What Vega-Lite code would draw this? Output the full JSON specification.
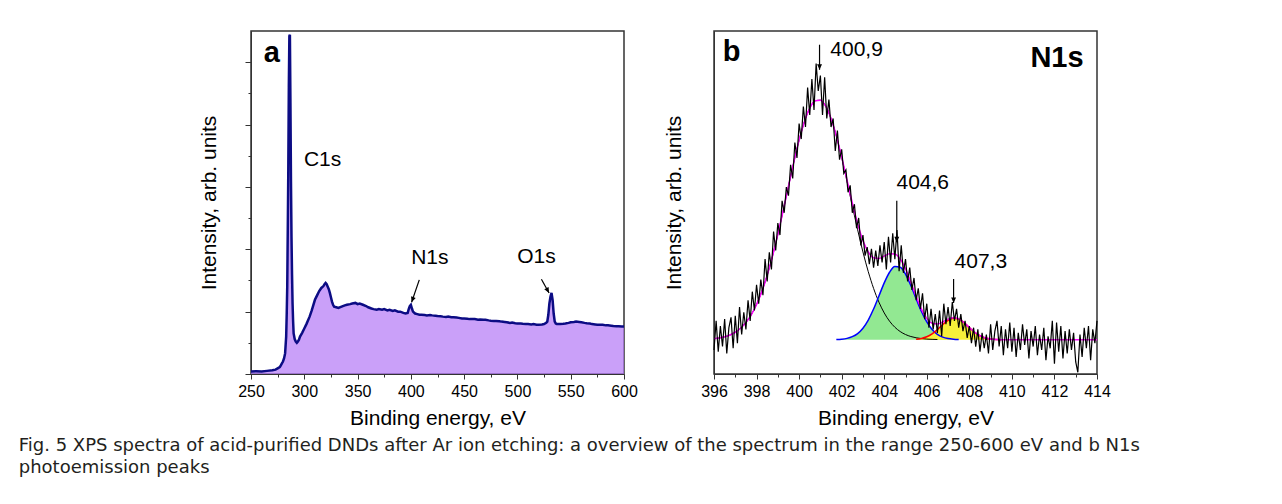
{
"$schema": "https://vega.github.io/schema/vega-lite/v6.json",
"padding": {"left": 18, "top": 28, "right": 0, "bottom": 0},
"config": {"font": "Liberation Sans", "view": {"stroke": "#333", "strokeWidth": 1.5},
  "axis": {"grid": false, "domainColor": "#333", "tickColor": "#333", "labelColor": "#000", "titleColor": "#000", "labelFontSize": 16, "titleFontSize": 21, "titleFontWeight": "normal", "labelFlush": false}},
"title": {"text": ["Fig. 5 XPS spectra of acid-purified DNDs after Ar ion etching: a overview of the spectrum in the range 250-600 eV and b N1s", "photoemission peaks"], "orient": "bottom", "anchor": "start", "dx": -179, "offset": 8, "font": "DejaVu Sans", "fontSize": 18, "fontWeight": "normal", "color": "#231f20", "lineHeight": 22},
"spacing": 23,
"datasets": {
"survey": [
{"e":250,"i":0.04},{"e":255,"i":0.045},{"e":260,"i":0.04},{"e":265,"i":0.05},{"e":270,"i":0.06},{"e":273,"i":0.07},{"e":275,"i":0.09},{"e":277,"i":0.11},{"e":278,"i":0.14},{"e":279,"i":0.17},{"e":280,"i":0.2},{"e":281,"i":0.25},{"e":282,"i":0.33},{"e":283,"i":0.6},{"e":283.5,"i":0.95},{"e":284,"i":1.4},{"e":284.5,"i":2.3},{"e":285,"i":3.28},{"e":285.5,"i":4.6},{"e":286,"i":5.42},{"e":286.5,"i":5.44},{"e":287,"i":4.35},{"e":287.5,"i":3.1},{"e":288,"i":2.2},{"e":288.5,"i":1.6},{"e":289,"i":1.13},{"e":289.5,"i":0.85},{"e":290,"i":0.65},{"e":291,"i":0.56},{"e":292,"i":0.52},{"e":293,"i":0.5},{"e":294,"i":0.52},{"e":295,"i":0.55},{"e":296,"i":0.6},{"e":298,"i":0.66},{"e":300,"i":0.73},{"e":302,"i":0.8},{"e":305,"i":0.92},{"e":307,"i":1.02},{"e":310,"i":1.19},{"e":312,"i":1.26},{"e":314,"i":1.33},{"e":316,"i":1.38},{"e":318,"i":1.41},{"e":319,"i":1.44},{"e":320,"i":1.46},{"e":321,"i":1.44},{"e":322,"i":1.4},{"e":323,"i":1.36},{"e":324,"i":1.3},{"e":325,"i":1.23},{"e":326,"i":1.16},{"e":327,"i":1.11},{"e":328,"i":1.08},{"e":330,"i":1.07},{"e":332,"i":1.06},{"e":335,"i":1.08},{"e":338,"i":1.1},{"e":340,"i":1.11},{"e":343,"i":1.12},{"e":345,"i":1.13},{"e":348,"i":1.14},{"e":350,"i":1.12},{"e":352,"i":1.13},{"e":355,"i":1.11},{"e":358,"i":1.09},{"e":360,"i":1.07},{"e":363,"i":1.05},{"e":365,"i":1.04},{"e":368,"i":1.03},{"e":370,"i":1.04},{"e":373,"i":1.03},{"e":375,"i":1.04},{"e":378,"i":1.02},{"e":380,"i":1.03},{"e":383,"i":1.01},{"e":385,"i":1.02},{"e":388,"i":1.0},{"e":390,"i":1.0},{"e":393,"i":0.98},{"e":395,"i":0.97},{"e":397,"i":0.98},{"e":398,"i":1.04},{"e":399,"i":1.09},{"e":400,"i":1.11},{"e":401,"i":1.05},{"e":402,"i":1.0},{"e":404,"i":0.97},{"e":406,"i":0.96},{"e":408,"i":0.95},{"e":410,"i":0.95},{"e":413,"i":0.945},{"e":415,"i":0.94},{"e":418,"i":0.945},{"e":420,"i":0.94},{"e":423,"i":0.935},{"e":425,"i":0.93},{"e":428,"i":0.925},{"e":430,"i":0.92},{"e":433,"i":0.915},{"e":435,"i":0.92},{"e":438,"i":0.91},{"e":440,"i":0.91},{"e":443,"i":0.905},{"e":445,"i":0.9},{"e":448,"i":0.89},{"e":450,"i":0.89},{"e":453,"i":0.885},{"e":455,"i":0.88},{"e":458,"i":0.88},{"e":460,"i":0.88},{"e":463,"i":0.87},{"e":465,"i":0.875},{"e":468,"i":0.87},{"e":470,"i":0.87},{"e":473,"i":0.86},{"e":475,"i":0.855},{"e":478,"i":0.85},{"e":480,"i":0.85},{"e":483,"i":0.845},{"e":485,"i":0.84},{"e":488,"i":0.835},{"e":490,"i":0.83},{"e":493,"i":0.82},{"e":495,"i":0.825},{"e":498,"i":0.815},{"e":500,"i":0.81},{"e":503,"i":0.81},{"e":505,"i":0.805},{"e":508,"i":0.8},{"e":510,"i":0.8},{"e":513,"i":0.795},{"e":515,"i":0.8},{"e":518,"i":0.79},{"e":520,"i":0.79},{"e":523,"i":0.795},{"e":525,"i":0.8},{"e":527,"i":0.82},{"e":528,"i":0.84},{"e":529,"i":0.95},{"e":530,"i":1.13},{"e":531,"i":1.24},{"e":532,"i":1.3},{"e":533,"i":1.19},{"e":534,"i":0.97},{"e":535,"i":0.84},{"e":536,"i":0.81},{"e":537,"i":0.8},{"e":540,"i":0.8},{"e":543,"i":0.805},{"e":545,"i":0.81},{"e":548,"i":0.82},{"e":550,"i":0.83},{"e":553,"i":0.835},{"e":555,"i":0.84},{"e":558,"i":0.835},{"e":560,"i":0.83},{"e":563,"i":0.82},{"e":565,"i":0.815},{"e":568,"i":0.81},{"e":570,"i":0.8},{"e":573,"i":0.795},{"e":575,"i":0.79},{"e":578,"i":0.79},{"e":580,"i":0.79},{"e":583,"i":0.78},{"e":585,"i":0.78},{"e":588,"i":0.775},{"e":590,"i":0.77},{"e":593,"i":0.765},{"e":595,"i":0.765},{"e":598,"i":0.76},{"e":600,"i":0.76}
],
"n1s": [
{"e":396.0,"v":-0.3},{"e":396.1,"v":0.55},{"e":396.2,"v":-0.35},{"e":396.3,"v":0.4},{"e":396.4,"v":-0.2},{"e":396.5,"v":0.6},{"e":396.6,"v":-0.4},{"e":396.7,"v":0.35},{"e":396.8,"v":0.65},{"e":396.9,"v":-0.25},
{"e":397.0,"v":0.7},{"e":397.1,"v":-0.1},{"e":397.2,"v":0.95},{"e":397.3,"v":0.15},{"e":397.4,"v":0.8},{"e":397.5,"v":0.3},{"e":397.6,"v":1.15},{"e":397.7,"v":0.55},{"e":397.8,"v":1.4},{"e":397.9,"v":0.85},
{"e":398.0,"v":1.6},{"e":398.1,"v":1.05},{"e":398.2,"v":1.75},{"e":398.3,"v":1.3},{"e":398.4,"v":2.35},{"e":398.5,"v":1.7},{"e":398.6,"v":2.55},{"e":398.7,"v":2.05},{"e":398.8,"v":3.15},{"e":398.9,"v":2.6},
{"e":399.0,"v":3.4},{"e":399.1,"v":3.05},{"e":399.2,"v":4.05},{"e":399.3,"v":3.7},{"e":399.4,"v":4.45},{"e":399.5,"v":4.2},{"e":399.6,"v":5.1},{"e":399.7,"v":4.7},{"e":399.8,"v":5.75},{"e":399.9,"v":5.3},
{"e":400.0,"v":6.3},{"e":400.1,"v":5.85},{"e":400.2,"v":6.8},{"e":400.3,"v":6.2},{"e":400.4,"v":7.35},{"e":400.5,"v":6.55},{"e":400.6,"v":7.6},{"e":400.7,"v":6.7},{"e":400.8,"v":8.05},{"e":400.9,"v":7.25},
{"e":401.0,"v":7.7},{"e":401.1,"v":6.55},{"e":401.2,"v":7.65},{"e":401.3,"v":6.45},{"e":401.4,"v":7.0},{"e":401.5,"v":6.2},{"e":401.6,"v":6.45},{"e":401.7,"v":5.5},{"e":401.8,"v":6.1},{"e":401.9,"v":5.25},
{"e":402.0,"v":5.55},{"e":402.1,"v":4.85},{"e":402.2,"v":4.95},{"e":402.3,"v":4.3},{"e":402.4,"v":4.5},{"e":402.5,"v":3.7},{"e":402.6,"v":3.95},{"e":402.7,"v":3.25},{"e":402.8,"v":3.55},{"e":402.9,"v":2.75},
{"e":403.0,"v":3.05},{"e":403.1,"v":2.45},{"e":403.2,"v":2.7},{"e":403.3,"v":2.2},{"e":403.4,"v":2.65},{"e":403.5,"v":2.1},{"e":403.6,"v":2.6},{"e":403.7,"v":2.15},{"e":403.8,"v":2.75},{"e":403.9,"v":2.25},
{"e":404.0,"v":2.85},{"e":404.1,"v":2.05},{"e":404.2,"v":3.0},{"e":404.3,"v":2.25},{"e":404.4,"v":3.1},{"e":404.5,"v":2.35},{"e":404.6,"v":3.2},{"e":404.7,"v":2.0},{"e":404.8,"v":2.75},{"e":404.9,"v":1.95},
{"e":405.0,"v":2.35},{"e":405.1,"v":1.7},{"e":405.2,"v":2.1},{"e":405.3,"v":1.45},{"e":405.4,"v":1.8},{"e":405.5,"v":1.15},{"e":405.6,"v":1.5},{"e":405.7,"v":0.9},{"e":405.8,"v":1.35},{"e":405.9,"v":0.6},
{"e":406.0,"v":1.05},{"e":406.1,"v":0.35},{"e":406.2,"v":0.9},{"e":406.3,"v":0.3},{"e":406.4,"v":0.75},{"e":406.5,"v":0.2},{"e":406.6,"v":0.85},{"e":406.7,"v":0.1},{"e":406.8,"v":1.05},{"e":406.9,"v":0.45},
{"e":407.0,"v":0.95},{"e":407.1,"v":0.4},{"e":407.2,"v":1.1},{"e":407.3,"v":0.55},{"e":407.4,"v":0.9},{"e":407.5,"v":0.35},{"e":407.6,"v":0.75},{"e":407.7,"v":0.25},{"e":407.8,"v":0.55},{"e":407.9,"v":0.05},
{"e":408.0,"v":0.4},{"e":408.1,"v":-0.1},{"e":408.2,"v":0.35},{"e":408.3,"v":-0.2},{"e":408.4,"v":0.3},{"e":408.5,"v":-0.35},{"e":408.6,"v":0.2},{"e":408.7,"v":-0.25},{"e":408.8,"v":0.15},{"e":408.9,"v":-0.4},
{"e":409.0,"v":0.45},{"e":409.1,"v":-0.3},{"e":409.2,"v":0.25},{"e":409.3,"v":0.55},{"e":409.4,"v":-0.2},{"e":409.5,"v":0.4},{"e":409.6,"v":-0.45},{"e":409.7,"v":0.3},{"e":409.8,"v":-0.25},{"e":409.9,"v":0.5},
{"e":410.0,"v":-0.35},{"e":410.1,"v":0.35},{"e":410.2,"v":-0.5},{"e":410.3,"v":0.2},{"e":410.4,"v":-0.3},{"e":410.5,"v":0.45},{"e":410.6,"v":-0.15},{"e":410.7,"v":0.3},{"e":410.8,"v":-0.55},{"e":410.9,"v":0.25},
{"e":411.0,"v":-0.2},{"e":411.1,"v":0.4},{"e":411.2,"v":-0.45},{"e":411.3,"v":0.15},{"e":411.4,"v":-0.3},{"e":411.5,"v":0.35},{"e":411.6,"v":-0.6},{"e":411.7,"v":0.1},{"e":411.8,"v":-0.25},{"e":411.9,"v":0.55},
{"e":412.0,"v":-0.7},{"e":412.1,"v":0.5},{"e":412.2,"v":-0.35},{"e":412.3,"v":0.4},{"e":412.4,"v":-0.55},{"e":412.5,"v":0.25},{"e":412.6,"v":-0.4},{"e":412.7,"v":0.3},{"e":412.8,"v":-0.3},{"e":412.9,"v":0.2},
{"e":413.0,"v":-0.65},{"e":413.1,"v":-0.95},{"e":413.2,"v":0.15},{"e":413.3,"v":-0.5},{"e":413.4,"v":0.35},{"e":413.5,"v":-0.25},{"e":413.6,"v":0.4},{"e":413.7,"v":-0.6},{"e":413.8,"v":0.3},{"e":413.9,"v":-0.1},{"e":414.0,"v":0.55}
],
"fit": [
{"e":396.0,"g1":0.029,"env":0.029},{"e":396.25,"g1":0.05,"env":0.05},{"e":396.5,"g1":0.084,"env":0.084},{"e":396.75,"g1":0.137,"env":0.137},{"e":397.0,"g1":0.217,"env":0.217},{"e":397.25,"g1":0.335,"env":0.335},{"e":397.5,"g1":0.5,"env":0.5},{"e":397.75,"g1":0.727,"env":0.727},{"e":398.0,"g1":1.026,"env":1.026},{"e":398.25,"g1":1.409,"env":1.409},{"e":398.5,"g1":1.88,"env":1.88},{"e":398.75,"g1":2.437,"env":2.437},{"e":399.0,"g1":3.07,"env":3.07},{"e":399.25,"g1":3.76,"env":3.76},{"e":399.5,"g1":4.475,"env":4.475},{"e":399.75,"g1":5.176,"env":5.176},{"e":400.0,"g1":5.818,"env":5.818},{"e":400.25,"g1":6.357,"env":6.357},{"e":400.5,"g1":6.749,"env":6.749},{"e":400.75,"g1":6.964,"env":6.964},{"e":401.0,"g1":6.984,"env":6.984},{"e":401.25,"g1":6.807,"env":6.807},{"e":401.5,"g1":6.448,"env":6.448},
{"e":401.75,"g1":5.936,"g2":0.006,"env":5.942},{"e":402.0,"g1":5.311,"g2":0.016,"env":5.327},{"e":402.25,"g1":4.618,"g2":0.039,"env":4.657},{"e":402.5,"g1":3.902,"g2":0.088,"env":3.99},{"e":402.75,"g1":3.205,"g2":0.179,"env":3.384},{"e":403.0,"g1":2.558,"g2":0.335,"env":2.893},{"e":403.25,"g1":1.984,"g2":0.573,"env":2.557},{"e":403.5,"g1":1.496,"g2":0.893,"env":2.389},{"e":403.75,"g1":1.096,"g2":1.273,"env":2.369},{"e":404.0,"g1":0.78,"g2":1.656,"env":2.436},{"e":404.25,"g1":0.54,"g2":1.967,"env":2.507},{"e":404.5,"g1":0.363,"g2":2.134,"env":2.497},{"e":404.75,"g1":0.238,"g2":2.115,"env":2.353},{"e":405.0,"g1":0.151,"g2":1.914,"env":2.065},{"e":405.25,"g1":0.093,"g2":1.582,"env":1.675},
{"e":405.5,"g1":0.056,"g2":1.194,"g3":0.014,"env":1.264},{"e":405.75,"g1":0.033,"g2":0.823,"g3":0.037,"env":0.893},{"e":406.0,"g1":0.018,"g2":0.518,"g3":0.085,"env":0.621},{"e":406.25,"g1":0.01,"g2":0.298,"g3":0.171,"env":0.479},{"e":406.5,"g1":0.005,"g2":0.157,"g3":0.295,"env":0.457},
{"e":406.75,"g2":0.075,"g3":0.44,"env":0.515},{"e":407.0,"g2":0.033,"g3":0.566,"env":0.599},{"e":407.25,"g2":0.013,"g3":0.628,"env":0.641},{"e":407.5,"g2":0.005,"g3":0.601,"env":0.606},
{"e":407.75,"g3":0.496,"env":0.496},{"e":408.0,"g3":0.353,"env":0.353},{"e":408.25,"g3":0.217,"env":0.217},{"e":408.5,"g3":0.115,"env":0.115},{"e":408.75,"g3":0.052,"env":0.052},{"e":409.0,"g3":0.021,"env":0.021},{"e":409.25,"g3":0.007,"env":0.007},{"e":409.5,"g3":0.002,"env":0.002},{"e":410.0,"env":0},{"e":414.0,"env":0}
],
"labA": [{"e":317.2,"i":3.43,"t":"C1s"},{"e":417.8,"i":1.86,"t":"N1s"},{"e":517.8,"i":1.87,"t":"O1s"}],
"boldA": [{"e":269.5,"i":5.15,"t":"a"}],
"arrA": [{"k":"N","e":407.9,"i":1.51,"e2":400.7,"i2":1.15},{"k":"O","e":522.5,"i":1.52,"e2":529.7,"i2":1.3}],
"labB": [{"e":402.7,"v":8.45,"t":"400,9"},{"e":405.81,"v":4.56,"t":"404,6"},{"e":408.54,"v":2.26,"t":"407,3"}],
"boldB": [{"e":396.83,"v":8.38,"t":"b"},{"e":412.12,"v":8.21,"t":"N1s"}],
"arrB": [{"e":400.96,"v":8.6,"e2":400.96,"v2":7.87},{"e":404.59,"v":4.05,"e2":404.59,"v2":2.84},{"e":407.26,"v":1.77,"e2":407.26,"v2":1.07}]
},
"hconcat": [
{
 "width": 373, "height": 343,
 "resolve": {"axis": {"x": "independent", "y": "independent"}},
 "layer": [
  {"data": {"name": "survey"},
   "mark": {"type": "area", "fill": "#b478f6", "line": {"color": "#0c0c84", "strokeWidth": 2.5}},
   "encoding": {
    "x": {"field": "e", "type": "quantitative", "scale": {"domain": [250, 600], "nice": false},
          "axis": {"orient": "bottom", "values": [250,300,350,400,450,500,550,600], "tickSize": 5, "labelPadding": 4, "title": "Binding energy, eV", "titlePadding": 8}},
    "y": {"field": "i", "type": "quantitative", "scale": {"domain": [0, 5.5], "nice": false},
          "axis": {"orient": "left", "values": [0,1,2,3,4,5], "labels": false, "tickSize": 6, "title": "Intensity, arb. units", "titlePadding": 25}}
   }},
  {"data": {"name": "survey"},
   "mark": {"type": "point", "opacity": 0},
   "encoding": {
    "x": {"field": "e", "type": "quantitative", "axis": {"orient": "bottom", "values": [275,325,375,425,475,525,575], "labels": false, "domain": false, "tickSize": 3, "title": null}},
    "y": {"field": "i", "type": "quantitative", "axis": {"orient": "left", "values": [0.5,1.5,2.5,3.5,4.5], "labels": false, "domain": false, "tickSize": 3, "title": null}}
   }},
  {"data": {"name": "labA"},
   "mark": {"type": "text", "fontSize": 21, "color": "#000", "align": "center", "baseline": "middle"},
   "encoding": {"x": {"field": "e", "type": "quantitative", "axis": null}, "y": {"field": "i", "type": "quantitative", "axis": null}, "text": {"field": "t"}}},
  {"data": {"name": "boldA"},
   "mark": {"type": "text", "fontSize": 29, "fontWeight": "bold", "color": "#000", "align": "center", "baseline": "middle"},
   "encoding": {"x": {"field": "e", "type": "quantitative", "axis": null}, "y": {"field": "i", "type": "quantitative", "axis": null}, "text": {"field": "t"}}},
  {"data": {"name": "arrA"},
   "mark": {"type": "rule", "color": "#000", "strokeWidth": 1.2},
   "encoding": {"x": {"field": "e", "type": "quantitative", "axis": null}, "y": {"field": "i", "type": "quantitative", "axis": null}, "x2": {"field": "e2"}, "y2": {"field": "i2"}}},
  {"data": {"name": "arrA"},
   "transform": [{"filter": "datum.k == 'N'"}],
   "mark": {"type": "point", "shape": "M-0.45,-1L0.45,-1L0,0Z", "size": 120, "filled": true, "color": "#000", "opacity": 1, "angle": 19},
   "encoding": {"x": {"field": "e2", "type": "quantitative", "axis": null}, "y": {"field": "i2", "type": "quantitative", "axis": null}}},
  {"data": {"name": "arrA"},
   "transform": [{"filter": "datum.k == 'O'"}],
   "mark": {"type": "point", "shape": "M-0.45,-1L0.45,-1L0,0Z", "size": 120, "filled": true, "color": "#000", "opacity": 1, "angle": 331},
   "encoding": {"x": {"field": "e2", "type": "quantitative", "axis": null}, "y": {"field": "i2", "type": "quantitative", "axis": null}}}
 ]
},
{
 "width": 383, "height": 343,
 "resolve": {"axis": {"x": "independent", "y": "independent"}},
 "layer": [
  {"data": {"name": "fit"},
   "mark": {"type": "area", "fill": "#92e892", "interpolate": "monotone"},
   "encoding": {
    "x": {"field": "e", "type": "quantitative", "scale": {"domain": [396, 414], "nice": false},
          "axis": {"orient": "bottom", "values": [396,398,400,402,404,406,408,410,412,414], "tickSize": 5, "labelPadding": 4, "title": "Binding energy, eV", "titlePadding": 8}},
    "y": {"field": "g2", "type": "quantitative", "scale": {"domain": [-1, 9], "nice": false},
          "axis": {"orient": "left", "ticks": false, "labels": false, "title": "Intensity, arb. units", "titlePadding": 30}},
    "y2": {"datum": 0}
   }},
  {"data": {"name": "fit"},
   "mark": {"type": "area", "fill": "#f6f03a", "interpolate": "monotone"},
   "encoding": {"x": {"field": "e", "type": "quantitative", "axis": {"orient": "bottom", "values": [397,399,401,403,405,407,409,411,413], "labels": false, "domain": false, "tickSize": 3, "title": null}},
                "y": {"field": "g3", "type": "quantitative", "axis": null}, "y2": {"datum": 0}}},
  {"mark": {"type": "rule", "color": "#ff0000", "strokeWidth": 1.5},
   "encoding": {"y": {"datum": 0, "type": "quantitative", "axis": null}}},
  {"data": {"name": "fit"},
   "mark": {"type": "line", "color": "#000", "strokeWidth": 1, "interpolate": "monotone"},
   "encoding": {"x": {"field": "e", "type": "quantitative", "axis": null}, "y": {"field": "g1", "type": "quantitative", "axis": null}}},
  {"data": {"name": "fit"},
   "mark": {"type": "line", "color": "#0000ff", "strokeWidth": 1.5, "interpolate": "monotone"},
   "encoding": {"x": {"field": "e", "type": "quantitative", "axis": null}, "y": {"field": "g2", "type": "quantitative", "axis": null}}},
  {"data": {"name": "fit"},
   "mark": {"type": "line", "color": "#ff0000", "strokeWidth": 1.5, "interpolate": "monotone"},
   "encoding": {"x": {"field": "e", "type": "quantitative", "axis": null}, "y": {"field": "g3", "type": "quantitative", "axis": null}}},
  {"data": {"name": "fit"},
   "mark": {"type": "line", "color": "#ff00ff", "strokeWidth": 1.5, "interpolate": "monotone"},
   "encoding": {"x": {"field": "e", "type": "quantitative", "axis": null}, "y": {"field": "env", "type": "quantitative", "axis": null}}},
  {"data": {"name": "n1s"},
   "mark": {"type": "line", "color": "#000", "strokeWidth": 1.2},
   "encoding": {"x": {"field": "e", "type": "quantitative", "axis": null}, "y": {"field": "v", "type": "quantitative", "axis": null}}},
  {"data": {"name": "labB"},
   "mark": {"type": "text", "fontSize": 21, "color": "#000", "align": "center", "baseline": "middle"},
   "encoding": {"x": {"field": "e", "type": "quantitative", "axis": null}, "y": {"field": "v", "type": "quantitative", "axis": null}, "text": {"field": "t"}}},
  {"data": {"name": "boldB"},
   "mark": {"type": "text", "fontSize": 29, "fontWeight": "bold", "color": "#000", "align": "center", "baseline": "middle"},
   "encoding": {"x": {"field": "e", "type": "quantitative", "axis": null}, "y": {"field": "v", "type": "quantitative", "axis": null}, "text": {"field": "t"}}},
  {"data": {"name": "arrB"},
   "mark": {"type": "rule", "color": "#000", "strokeWidth": 1.2},
   "encoding": {"x": {"field": "e", "type": "quantitative", "axis": null}, "y": {"field": "v", "type": "quantitative", "axis": null}, "x2": {"field": "e2"}, "y2": {"field": "v2"}}},
  {"data": {"name": "arrB"},
   "mark": {"type": "point", "shape": "M-0.45,-1L0.45,-1L0,0Z", "size": 120, "filled": true, "color": "#000", "opacity": 1},
   "encoding": {"x": {"field": "e2", "type": "quantitative", "axis": null}, "y": {"field": "v2", "type": "quantitative", "axis": null}}}
 ]
}
]
}
